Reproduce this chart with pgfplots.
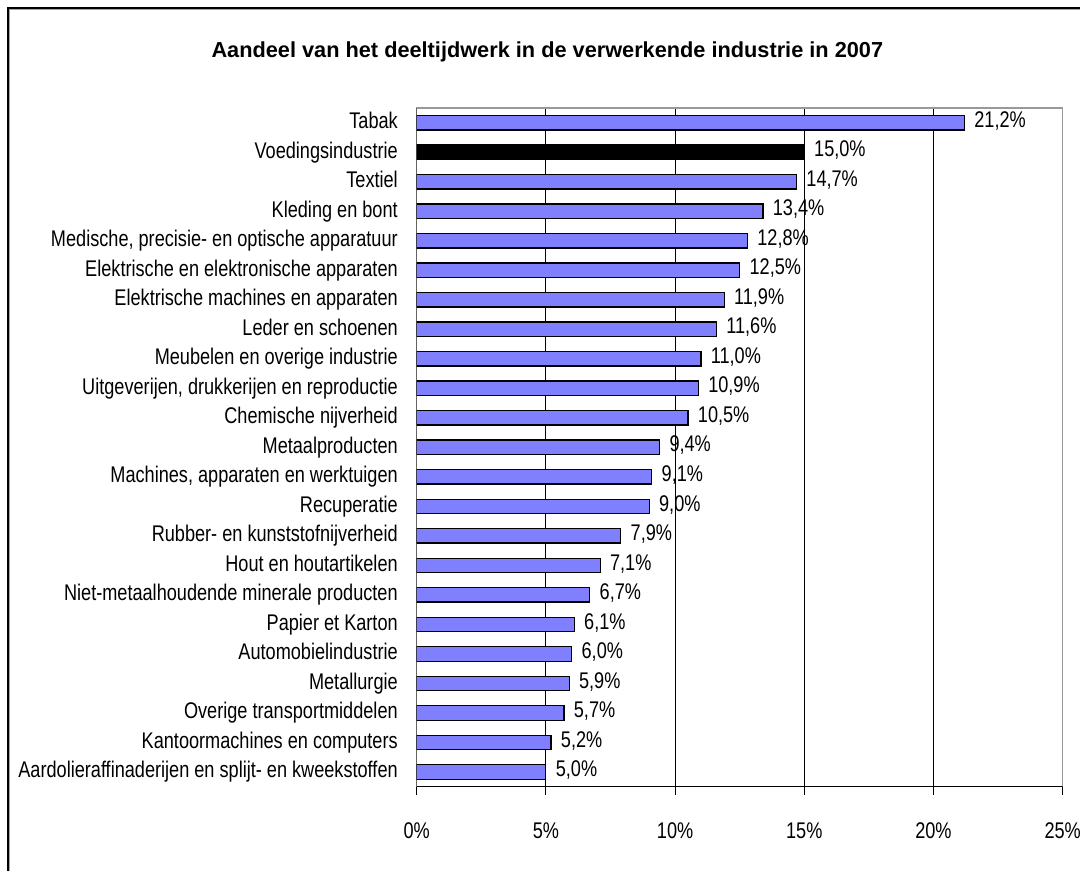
\documentclass[border=0pt]{standalone}
\usepackage{graphicx}
\usepackage{fontspec}
\setmainfont{Liberation Sans}[FakeStretch=0.8]
\newfontfamily\titlefont{Liberation Sans}
\usepackage{pgfplots}
\pgfplotsset{compat=1.18}
\definecolor{barblue}{RGB}{128,128,255}
\begin{document}
\begin{tikzpicture}
\useasboundingbox (0pt,0pt) rectangle (810pt,652.5pt);
\fill[white] (0pt,0pt) rectangle (810pt,652.5pt);
\draw[gray!70, line width=1.2pt] (7.2pt,-5pt) -- (7.2pt,645.3pt) -- (815pt,645.3pt);
\draw[black, line width=1.3pt] (6.2pt,-5pt) -- (6.2pt,646.3pt) -- (815pt,646.3pt);
\node[anchor=base, font=\titlefont\bfseries\fontsize{16.3}{19}\selectfont, inner sep=0pt] at (410.5pt,609.5pt) {Aandeel van het deeltijdwerk in de verwerkende industrie in 2007};
\begin{axis}[
  at={(312.5pt,62.5pt)}, anchor=south west,
  scale only axis, width=484.5pt, height=509pt,
  xbar, bar shift=0pt, bar width=0.49,
  xmin=0, xmax=25, ymin=-0.5, ymax=22.5,
  xtick={0,5,10,15,20,25},
  xticklabels={0\%,5\%,10\%,15\%,20\%,25\%},
  ytick={0,...,22},
  yticklabels={Aardolieraffinaderijen en splijt- en kweekstoffen,Kantoormachines en computers,Overige transportmiddelen,Metallurgie ,Automobielindustrie,Papier et Karton,Niet-metaalhoudende minerale producten,Hout en houtartikelen,Rubber- en kunststofnijverheid,Recuperatie,{Machines, apparaten en werktuigen},Metaalproducten,Chemische nijverheid,{Uitgeverijen, drukkerijen en reproductie},Meubelen en overige industrie,Leder en schoenen,Elektrische machines en apparaten,Elektrische en elektronische apparaten,{Medische, precisie- en optische apparatuur},Kleding en bont,Textiel,Voedingsindustrie,Tabak},
  minor ytick={-0.5,0.5,...,22.5},
  ytick style={draw=none},
  minor y tick style={black, line width=0.8pt},
  x tick style={black, line width=0.8pt},
  tick align=outside,
  major tick length=6pt, minor tick length=6pt,
  xtick pos=bottom, ytick pos=left,
  xmajorgrids, grid style={black, line width=0.6pt},
  axis line style={draw=gray!80, line width=1pt},
  tick label style={font=\fontsize{17}{20}\selectfont},
  yticklabel style={inner sep=0pt, xshift=-8pt, text height=12.8pt, text depth=3.8pt},
  xticklabel style={inner sep=0pt, yshift=-21pt},
  /pgf/number format/assume math mode=true,
  point meta=x,
  nodes near coords={\pgfmathprintnumber[fixed,fixed zerofill,precision=1,use comma]{\pgfplotspointmeta}\%},
  every node near coord/.append style={font=\fontsize{17}{20}\selectfont, inner sep=0pt, text height=12.8pt, text depth=3.8pt, xshift=7pt, yshift=1pt, black},
]
\addplot[draw=black, line width=0.9pt, fill=barblue] coordinates {
(5.0,0) (5.2,1) (5.7,2) (5.9,3) (6.0,4) (6.1,5) (6.7,6) (7.1,7) (7.9,8) (9.0,9) (9.1,10) (9.4,11) (10.5,12) (10.9,13) (11.0,14) (11.6,15) (11.9,16) (12.5,17) (12.8,18) (13.4,19) (14.7,20) (21.2,22)
};
\addplot[draw=black, line width=0.9pt, fill=black] coordinates {(15.0,21)};
\draw[black, line width=1pt] (rel axis cs:0,1) -- (rel axis cs:0,0) -- (rel axis cs:1,0);
\end{axis}
\end{tikzpicture}
\end{document}
